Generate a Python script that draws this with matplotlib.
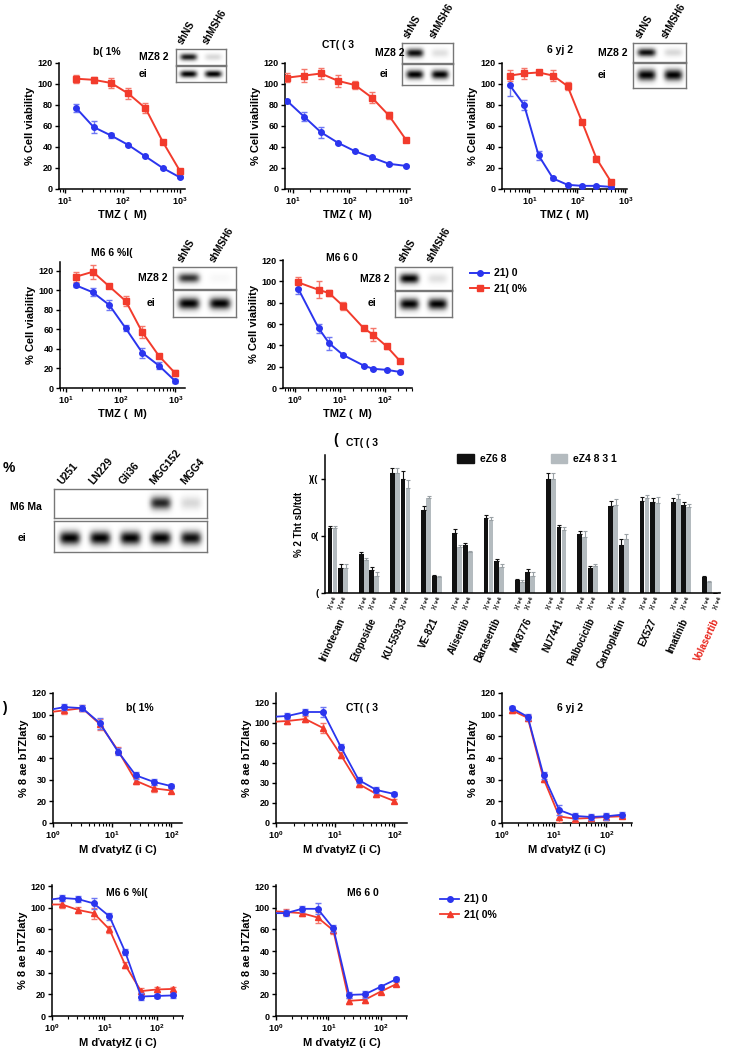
import numpy as np
import matplotlib
matplotlib.use('Agg')
import matplotlib.pyplot as plt
from matplotlib.lines import Line2D
from matplotlib.patches import Patch

plt.rcParams['font.family'] = ['Liberation Sans', 'DejaVu Sans']
plt.rcParams['font.weight'] = 'bold'
plt.rcParams['axes.labelweight'] = 'bold'
plt.rcParams['axes.linewidth'] = 1.1
plt.rcParams['xtick.major.width'] = 1.0
plt.rcParams['ytick.major.width'] = 1.0
plt.rcParams['xtick.minor.width'] = 0.8

W, H = 729, 1050
BLUE = '#2b35ee'
RED = '#f23b2c'
BLUE_E = '#6f78f4'
RED_E = '#f5786c'

# ---------- top rows : TMZ dose response, shNS vs shMSH6 ----------
tmz_a = [15.6, 31.25, 62.5, 125, 250, 500, 1000]
tmz_b = [7.8, 15.6, 31.25, 62.5, 125, 250, 500, 1000]
tmz_c = [3.9, 7.8, 15.6, 31.25, 62.5, 125, 250, 500]
tmz_e = [1.2, 3.4, 5.8, 11.8, 34, 55, 110, 220]

p1_ns = [77, 59, 51, 42, 31, 20, 11]
p1_ns_err = [4, 6, 2, 1, 1, 1, 1]
p1_sh = [105, 104, 101, 91, 77, 45, 17]
p1_sh_err = [4, 3, 5, 5, 5, 2, 2]

p2_ns = [84, 69, 54, 44, 36, 30, 24, 22]
p2_ns_err = [1, 4, 5, 1, 1, 1, 1, 1]
p2_sh = [106, 108, 110, 103, 99, 87, 70, 47]
p2_sh_err = [4, 6, 5, 6, 4, 5, 3, 2]

p3_ns = [99, 80, 32, 10, 4, 3, 3, 2]
p3_ns_err = [10, 5, 4, 1, 1, 1, 1, 1]
p3_sh = [108, 110, 111, 108, 98, 64, 29, 7]
p3_sh_err = [5, 5, 2, 5, 4, 2, 2, 2]

p4_ns = [105, 98, 85, 61, 36, 23, 7]
p4_ns_err = [2, 4, 5, 3, 5, 4, 2]
p4_sh = [114, 119, 104, 89, 57, 33, 15]
p4_sh_err = [5, 7, 2, 5, 6, 2, 3]

p5_ns = [93, 56, 42, 31, 21, 18, 17, 15]
p5_ns_err = [5, 4, 6, 1, 1, 1, 1, 1]
p5_sh = [99, 92, 89, 77, 56, 50, 39, 25]
p5_sh_err = [5, 8, 3, 4, 2, 6, 2, 2]

# ---------- bar panel ----------
drugs = ['Irinotecan', 'Etoposide', 'KU-55933', 'VE-821', 'Alisertib', 'Barasertib',
         'MK8776', 'NU7441', 'Palbociclib', 'Carboplatin', 'EX527', 'Imatinib', 'Volasertib']
ns_lo = [57, 34, 105, 73, 53, 66, 11, 100, 52, 76, 81, 80, 14]
sh_lo = [57, 29, 105, 83, 40, 64, 10, 100, 49, 77, 83, 82, 10]
ns_hi = [22, 20, 100, 15, 42, 28, 18, 58, 22, 42, 80, 77, 0.3]
sh_hi = [22, 15, 92, 14, 36, 23, 15, 55, 24, 47, 79, 75, 0.5]
ns_lo_err = [2, 2, 5, 3, 3, 2, 1, 5, 2, 5, 3, 3, 0.5]
sh_lo_err = [2, 2, 5, 2, 2, 3, 1, 5, 5, 5, 3, 5, 0.5]
ns_hi_err = [3, 3, 7, 1, 2, 2, 3, 2, 2, 5, 3, 3, 0]
sh_hi_err = [3, 3, 7, 1, 1, 2, 3, 3, 1, 5, 5, 3, 0]

# ---------- bottom rows : inhibitor dose response ----------
inh_8 = [0.78, 1.56, 3.125, 6.25, 12.5, 25, 50, 100]
inh_9 = [0.78, 1.56, 3.125, 6.25, 12.5, 25, 50, 100, 200]
inh_c = [1.56, 3.125, 6.25, 12.5, 25, 50, 100, 200]

b1_ns = [104, 107, 106, 92, 66, 44, 38, 34]
b1_sh = [102, 104, 106, 91, 67, 39, 32, 30]
b2_ns = [106, 107, 111, 111, 76, 43, 33, 29]
b2_sh = [101, 102, 104, 95, 68, 39, 29, 22]
b3_ns = [106, 98, 44, 12, 6.5, 5.6, 6.2, 7.7]
b3_sh = [104, 97, 41, 6, 4, 4.6, 5.6, 6.2]
b4_ns = [107, 109, 108, 104, 92, 59, 18, 18.5, 19]
b4_sh = [103, 103, 98, 95, 80, 47, 23, 24.5, 25]
b5_ns = [95, 95, 99, 99, 81, 19.5, 20, 27, 34]
b5_sh = [97, 96, 95, 91, 79, 14, 15, 22.5, 29.5]
b_err = [2, 3, 3, 5, 3, 3, 3, 2, 2]

bot_yticks = [0, 20, 40, 60, 80, 100, 120]
bot_ylabels = ['0', '20', '30', '40', '60', '100', '120']

# western blot band intensities
lines_wb = ['U251', 'LN229', 'Gli36', 'MGG152', 'MGG4']
wb_top = [0.0, 0.0, 0.0, 0.85, 0.15]
wb_bot = [1.0, 1.0, 1.0, 1.0, 0.95]
sh_top = {'p1': [0.9, 0.15], 'p2': [0.95, 0.12], 'p3': [0.95, 0.15],
          'p4': [0.8, 0.03], 'p5': [1.0, 0.12]}

fig = plt.figure(figsize=(W / 100, H / 100), dpi=100)


def px_axes(x0, y0, x1, y1):
    return fig.add_axes([x0 / W, 1 - y1 / H, (x1 - x0) / W, (y1 - y0) / H])


def ftext(x, y, s, **kw):
    kw.setdefault('fontweight', 'bold')
    fig.text(x / W, 1 - y / H, s, **kw)


def style(ax):
    for s in ['top', 'right']:
        ax.spines[s].set_visible(False)
    ax.tick_params(labelsize=6.5, length=3, pad=1.5)
    ax.tick_params(which='minor', length=2)


def dose_panel(box, xlim, ylim, x, ns, nse, sh, she, title, tpos):
    ax = px_axes(*box)
    ax.errorbar(x, ns, yerr=nse, color=BLUE, ecolor=BLUE_E, marker='o', ms=4,
                lw=1.4, capsize=2.5, elinewidth=1, zorder=3)
    ax.errorbar(x, sh, yerr=she, color=RED, ecolor=RED_E, marker='s', ms=4,
                lw=1.4, capsize=2.5, elinewidth=1, zorder=3)
    ax.set_xscale('log')
    ax.set_xlim(*xlim)
    ax.set_ylim(*ylim)
    ax.set_yticks(range(0, 121, 20))
    style(ax)
    ax.set_ylabel('% Cell viability', fontsize=8, labelpad=2)
    ax.set_xlabel('TMZ (  M)', fontsize=8, labelpad=2)
    ftext(tpos[0], tpos[1], title, fontsize=7.5, ha='center', va='center')
    return ax


def blot_img(levels, yc=0.5, sy=0.22, sx=0.34, nx=90, ny=30):
    xs = np.linspace(0, len(levels), nx)
    ys = np.linspace(0, 1, ny)
    X, Y = np.meshgrid(xs, ys)
    img = np.zeros_like(X)
    for i, lv in enumerate(levels):
        img += lv * np.exp(-((X - (i + 0.5)) / sx) ** 4) * np.exp(-((Y - yc) / sy) ** 2)
    return 1 - np.clip(img, 0, 1)


def blot_box(box, levels, yc=0.5):
    ax = px_axes(*box)
    ax.imshow(blot_img(levels, yc=yc), cmap='gray', vmin=0, vmax=1,
              aspect='auto', interpolation='bilinear')
    ax.set_xticks([])
    ax.set_yticks([])
    for s in ax.spines.values():
        s.set_color('#777777')
        s.set_linewidth(1)
    return ax


def sh_blot(x0, x1, ytop, ymid, ybot, levels, mzx, eix):
    blot_box((x0, ytop, x1, ymid), levels)
    blot_box((x0, ymid + 1, x1, ybot), [1.0, 1.0])
    lw = (x1 - x0) / 2
    for i, lab in enumerate(['shNS', 'shMSH6']):
        ftext(x0 + lw * (i + 0.5) - 4, ytop - 3, lab, fontsize=7, rotation=60,
              ha='left', va='bottom', rotation_mode='anchor')
    ftext(mzx, (ytop + ymid) / 2, 'MZ8 2', fontsize=7.5, ha='left', va='center')
    ftext(eix, (ymid + ybot) / 2, 'ei', fontsize=7.5, ha='left', va='center')


# ---- top row ----
dose_panel((59, 63, 185, 189), (7.8, 1220), (0, 120), tmz_a, p1_ns, p1_ns_err,
           p1_sh, p1_sh_err, 'b( 1%', (107, 52))
sh_blot(176, 226, 49, 65, 82, sh_top['p1'], 139, 139)

dose_panel((285, 63, 410, 189), (7.2, 1180), (0, 120), tmz_b, p2_ns, p2_ns_err,
           p2_sh, p2_sh_err, 'CT( ( 3', (338, 45))
sh_blot(402, 453, 43, 63, 85, sh_top['p2'], 375, 380)

dose_panel((502, 63, 627, 189), (2.7, 1080), (0, 120), tmz_c, p3_ns, p3_ns_err,
           p3_sh, p3_sh_err, '6 yj 2', (560, 50))
sh_blot(633, 686, 43, 62, 88, sh_top['p3'], 598, 598)

dose_panel((60, 262, 185, 388), (7.9, 1500), (0, 129), tmz_a, p4_ns, p4_ns_err,
           p4_sh, p4_sh_err, 'M6 6 %I(', (112, 253))
sh_blot(173, 236, 267, 289, 317, sh_top['p4'], 138, 147)

ax5 = dose_panel((283, 260, 412, 388), (0.55, 400), (0, 120), tmz_e, p5_ns, p5_ns_err,
                 p5_sh, p5_sh_err, 'M6 6 0', (342, 258))
sh_blot(395, 452, 267, 290, 317, sh_top['p5'], 360, 368)
h_top = [Line2D([], [], color=BLUE, marker='o', ms=4, lw=1.4),
         Line2D([], [], color=RED, marker='s', ms=4, lw=1.4)]
fig.legend(h_top, ['21) 0', '21( 0%'], loc='upper left', frameon=False,
           bbox_to_anchor=(461 / W, 1 - 259 / H), fontsize=7.5, handlelength=1.8,
           handletextpad=0.5, labelspacing=0.5)

# ---- western blot panel ----
ftext(3, 468, '%', fontsize=10, ha='left', va='center')
blot_box((54, 489, 207, 518), wb_top, yc=0.5)
blot_box((54, 521, 207, 552), wb_bot, yc=0.55)
lane_w = (207 - 54) / len(lines_wb)
for i, lab in enumerate(lines_wb):
    ftext(54 + lane_w * (i + 0.5) - 5, 486, lab, fontsize=7.5, rotation=50,
          ha='left', va='bottom', rotation_mode='anchor')
ftext(10, 507, 'M6 Ma', fontsize=7.5, ha='left', va='center')
ftext(18, 538, 'ei', fontsize=7.5, ha='left', va='center')

# ---- bar panel ----
ftext(333, 440, '(', fontsize=10, ha='left', va='center')
ftext(362, 443, 'CT( ( 3', fontsize=7.5, ha='center', va='center')
axb = px_axes(325, 455, 720, 593)
g = np.arange(len(drugs))
bw = 0.15
kw_e = dict(capsize=1.2, elinewidth=0.8, capthick=0.8)
z = [0] * len(drugs)
axb.bar(g - 0.25, ns_lo, bw, color='#111111', yerr=[z, ns_lo_err], ecolor='#111111', error_kw=kw_e)
axb.bar(g - 0.09, sh_lo, bw, color='#b4bbbf', yerr=[z, sh_lo_err], ecolor='#9aa1a5', error_kw=kw_e)
axb.bar(g + 0.09, ns_hi, bw, color='#111111', yerr=[z, ns_hi_err], ecolor='#111111', error_kw=kw_e)
axb.bar(g + 0.25, sh_hi, bw, color='#b4bbbf', yerr=[z, sh_hi_err], ecolor='#9aa1a5', error_kw=kw_e)
axb.set_xlim(-0.41, 12.25)
axb.set_ylim(0, 121)
axb.set_yticks([0, 50, 100], ['(', '0(', ')(('])
style(axb)
axb.set_ylabel('% 2 Tht sD/tdt', fontsize=7, labelpad=4)
axb.set_xticks(g)
axb.set_xticklabels(drugs, rotation=65, ha='right', rotation_mode='anchor', fontsize=7)
axb.tick_params(axis='x', length=0, pad=17)
axb.get_xticklabels()[-1].set_color('#e8231a')
for gi in g:
    for off in (-0.17, 0.17):
        axb.text(gi + off, -0.02, '}{ v4', transform=axb.get_xaxis_transform(),
                 fontsize=4.3, rotation=65, ha='right', va='top', rotation_mode='anchor')
h_bar = [Patch(color='#111111'), Patch(color='#b4bbbf')]
fig.legend(h_bar, ['eZ6 8', 'eZ4 8 3 1'], loc='upper left', ncol=2, frameon=False,
           bbox_to_anchor=(448 / W, 1 - 445 / H), fontsize=7.5, handlelength=1.6,
           handleheight=0.9, columnspacing=4.2, handletextpad=0.6)

# ---- bottom rows ----
ftext(2, 708, ')', fontsize=10, ha='left', va='center')


def inh_panel(box, xlim, ylim, x, ns, sh, title, tpos):
    ax = px_axes(*box)
    e = b_err[:len(x)]
    ax.errorbar(x, sh, yerr=e, color=RED, ecolor=RED_E, marker='^', ms=4,
                lw=1.3, capsize=2.5, elinewidth=1, zorder=3)
    ax.errorbar(x, ns, yerr=e, color=BLUE, ecolor=BLUE_E, marker='o', ms=4,
                lw=1.3, capsize=2.5, elinewidth=1, zorder=4)
    ax.set_xscale('log')
    ax.set_xlim(*xlim)
    ax.set_ylim(*ylim)
    ax.set_yticks(bot_yticks, bot_ylabels)
    style(ax)
    ax.set_ylabel('% 8 ae bTZlaty', fontsize=8, labelpad=2)
    ax.set_xlabel('M ďvatyłZ (i C)', fontsize=8, labelpad=3)
    ftext(tpos[0], tpos[1], title, fontsize=7.5, ha='center', va='center')
    return ax


inh_panel((53, 693, 182, 823), (1, 151), (0, 120), inh_8, b1_ns, b1_sh, 'b( 1%', (140, 708))
inh_panel((276, 693, 407, 823), (1, 164), (0, 130), inh_8, b2_ns, b2_sh, 'CT( ( 3', (362, 708))
inh_panel((502, 693, 632, 823), (1, 310), (0, 120), inh_c, b3_ns, b3_sh, '6 yj 2', (570, 708))
inh_panel((52, 885, 183, 1016), (1, 316), (0, 121), inh_9, b4_ns, b4_sh, 'M6 6 %I(', (127, 893))
inh_panel((276, 885, 407, 1016), (1, 320), (0, 121), inh_9, b5_ns, b5_sh, 'M6 6 0', (363, 893))
h_bot = [Line2D([], [], color=BLUE, marker='o', ms=4, lw=1.3),
         Line2D([], [], color=RED, marker='^', ms=4, lw=1.3)]
fig.legend(h_bot, ['21) 0', '21( 0%'], loc='upper left', frameon=False,
           bbox_to_anchor=(431 / W, 1 - 885 / H), fontsize=7.5, handlelength=1.8,
           handletextpad=0.5, labelspacing=0.5)

fig.savefig('out.png', dpi=100)
